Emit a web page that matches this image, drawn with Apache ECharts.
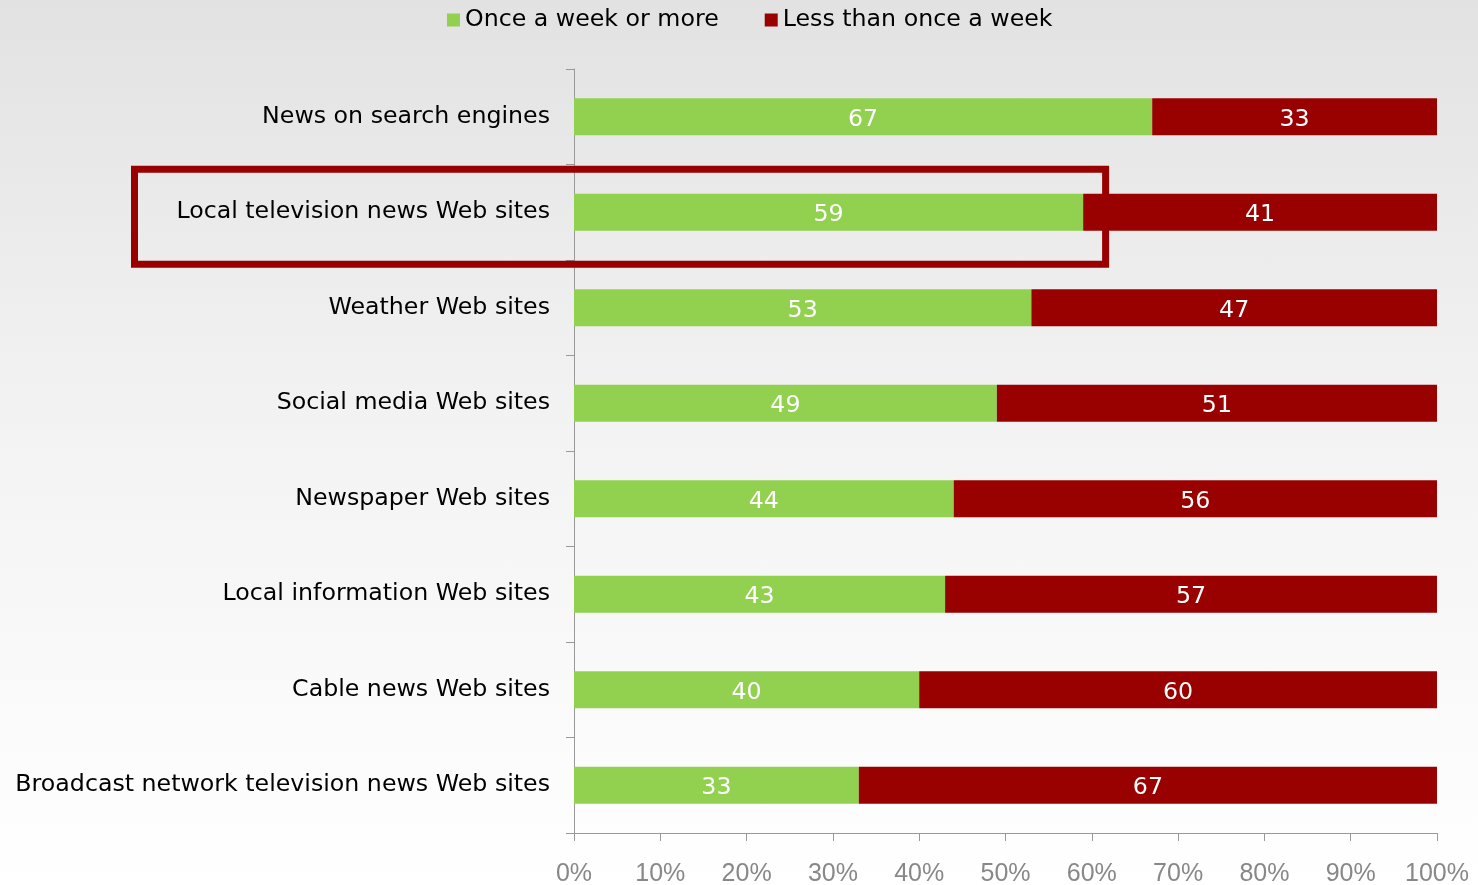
<!DOCTYPE html>
<html>
<head>
<meta charset="utf-8">
<script src="https://cdn.jsdelivr.net/npm/echarts@6/dist/echarts.min.js"></script>
<style>
  html, body { margin: 0; padding: 0; }
  #main {
    width: 1478px;
    height: 885px;
    background: linear-gradient(to bottom, #e2e2e2 0%, #f2f2f2 45%, #ffffff 100%);
  }
</style>
</head>
<body>
<div id="main"></div>
<script>
const categories = [
  "News on search engines",
  "Local television news Web sites",
  "Weather Web sites",
  "Social media Web sites",
  "Newspaper Web sites",
  "Local information Web sites",
  "Cable news Web sites",
  "Broadcast network television news Web sites"
];
const onceAWeek = [67, 59, 53, 49, 44, 43, 40, 33];
const lessThanWeekly = [33, 41, 47, 51, 56, 57, 60, 67];
const highlighted = "Local television news Web sites";

const font = "DejaVu Sans, sans-serif";
const tickFont = "Liberation Sans, Arial, sans-serif";
const myChart = echarts.init(document.getElementById("main"));

// 绘制图表
myChart.setOption({
  backgroundColor: "transparent",
  animation: false,
  textStyle: { fontFamily: font },
  legend: {
    top: 3,
    left: 442,
    itemWidth: 13,
    itemHeight: 13,
    itemGap: 46,
    icon: "rect",
    textStyle: { fontSize: 23.7, color: "#000", fontFamily: font },
    data: ["Once a week or more", "Less than once a week"]
  },
  grid: { left: 574, right: 41, top: 69, bottom: 52, outerBoundsMode: "none", containLabel: false },
  xAxis: {
    type: "value",
    min: 0,
    max: 100,
    interval: 10,
    splitLine: { show: false },
    axisLine: { show: true, lineStyle: { color: "#999" } },
    axisTick: { show: true, length: 8, lineStyle: { color: "#999" } },
    axisLabel: {
      formatter: "{value}%",
      fontSize: 25,
      color: "#888",
      margin: 29,
      fontFamily: tickFont
    }
  },
  yAxis: {
    type: "category",
    inverse: true,
    data: categories,
    axisLine: { show: true, lineStyle: { color: "#999" } },
    axisTick: { show: true, length: 8, inside: false, lineStyle: { color: "#999" } },
    axisLabel: { fontSize: 23.7, color: "#000", margin: 24, fontFamily: font, lineHeight: 30, padding: [5, 0, 0, 0] }
  },
  series: [
    {
      name: "Once a week or more",
      type: "bar",
      stack: "total",
      barWidth: 37,
      itemStyle: { color: "#92d050" },
      label: { show: true, position: "inside", color: "#fff", fontSize: 23.7, fontFamily: font, offset: [0, 3] },
      data: onceAWeek
    },
    {
      name: "Less than once a week",
      type: "bar",
      stack: "total",
      barWidth: 37,
      itemStyle: { color: "#990000" },
      label: { show: true, position: "inside", color: "#fff", fontSize: 23.7, fontFamily: font, offset: [0, 3] },
      data: lessThanWeekly
    }
  ]
});

// highlight box around one row
const cy = myChart.convertToPixel({ yAxisIndex: 0 }, highlighted);
const xRight = myChart.convertToPixel({ xAxisIndex: 0 }, 61.6);
myChart.setOption({
  graphic: [{
    type: "rect",
    z: 100,
    shape: { x: 134.5, y: cy - 43, width: xRight - 134.5, height: 95 },
    style: { fill: "none", stroke: "#990000", lineWidth: 7 }
  }]
});
</script>
</body>
</html>
